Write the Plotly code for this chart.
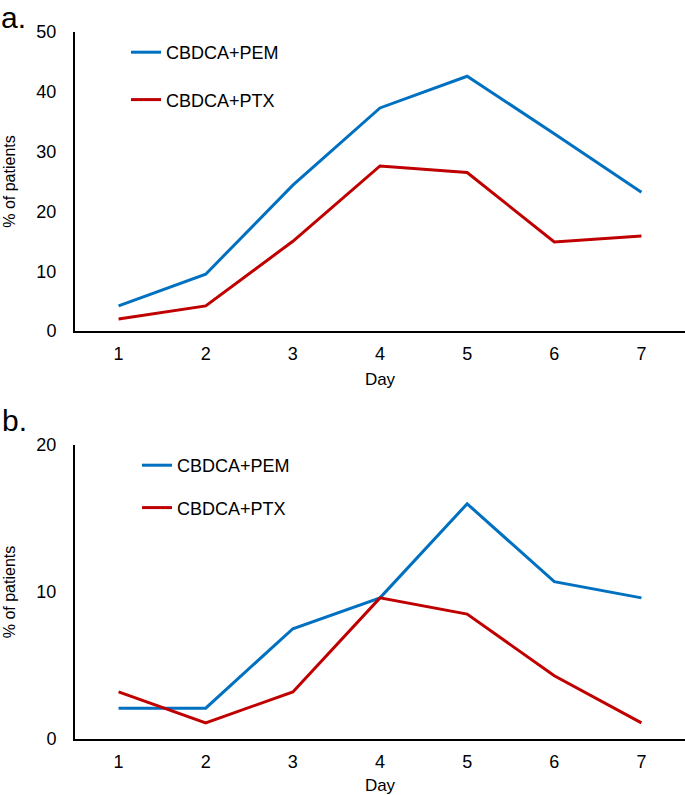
import plotly.graph_objects as go

# data
days = ["1", "2", "3", "4", "5", "6", "7"]
pem_a = [4.2, 9.5, 24.4, 37.3, 42.6, 33.0, 23.2]
ptx_a = [2.0, 4.2, 15.0, 27.6, 26.5, 14.9, 15.9]
pem_b = [2.1, 2.1, 7.5, 9.6, 16.0, 10.7, 9.6]
ptx_b = [3.2, 1.1, 3.2, 9.6, 8.5, 4.3, 1.1]

BLUE = "#0070C0"
RED = "#C00000"
FONT = "Arial, Liberation Sans, sans-serif"
W, H = 685, 795

fig = go.Figure()
fig.add_trace(go.Scatter(x=days, y=pem_a, mode="lines", name="CBDCA+PEM", line=dict(color=BLUE, width=3),
                         xaxis="x", yaxis="y", legend="legend", legendgroup="a1"))
fig.add_trace(go.Scatter(x=days, y=ptx_a, mode="lines", name="CBDCA+PTX", line=dict(color=RED, width=3),
                         xaxis="x", yaxis="y", legend="legend", legendgroup="a2"))
fig.add_trace(go.Scatter(x=days, y=pem_b, mode="lines", name="CBDCA+PEM", line=dict(color=BLUE, width=3),
                         xaxis="x2", yaxis="y2", legend="legend2", legendgroup="b1"))
fig.add_trace(go.Scatter(x=days, y=ptx_b, mode="lines", name="CBDCA+PTX", line=dict(color=RED, width=3),
                         xaxis="x2", yaxis="y2", legend="legend2", legendgroup="b2"))

xdom = [75 / W, 1]
xcommon = dict(type="category", range=[-0.5, 6.5], domain=xdom, showline=True, linecolor="black", linewidth=2,
               showgrid=False, zeroline=False, ticks="", ticklabelstandoff=5, automargin=False,
               tickfont=dict(size=18, color="black"),
               title=dict(text="Day", font=dict(size=17, color="black"), standoff=11))
ycommon = dict(showline=True, linecolor="black", linewidth=2, showgrid=False, zeroline=False, ticks="",
               ticklabelstandoff=13, automargin=False, tickfont=dict(size=18, color="black"),
               title=dict(text="% of patients", font=dict(size=16, color="black"), standoff=17))

legcommon = dict(font=dict(size=18, color="black", family=FONT), bgcolor="rgba(0,0,0,0)",
                 traceorder="grouped", xanchor="left", yanchor="top", itemwidth=30)

fig.update_layout(
    width=W, height=H,
    margin=dict(l=0, r=0, t=0, b=0, autoexpand=False),
    paper_bgcolor="white", plot_bgcolor="white",
    font=dict(family=FONT, color="black"),
    xaxis=dict(xcommon, anchor="y"),
    yaxis=dict(ycommon, domain=[1 - 331 / H, 1 - 32 / H], range=[0, 50], dtick=10, anchor="x"),
    xaxis2=dict(xcommon, anchor="y2"),
    yaxis2=dict(ycommon, domain=[1 - 739 / H, 1 - 445 / H], range=[0, 20], dtick=10, anchor="x2"),
    legend=dict(legcommon, x=126 / W, y=1 - 34 / H, tracegroupgap=21),
    legend2=dict(legcommon, x=137 / W, y=1 - 447 / H, tracegroupgap=16),
    annotations=[
        dict(text="a.", x=0, y=1, xref="paper", yref="paper", xanchor="left", yanchor="top",
             showarrow=False, font=dict(size=30, color="black"), borderpad=0),
        dict(text="b.", x=0, y=1 - 402 / H, xref="paper", yref="paper", xanchor="left", yanchor="top",
             showarrow=False, font=dict(size=30, color="black")),
    ],
)

# drop the browser's default body margin so the figure sits at the page corner
fig.write_html("out.html", config={"displayModeBar": False},
               post_script="document.body.style.margin='0px';")
